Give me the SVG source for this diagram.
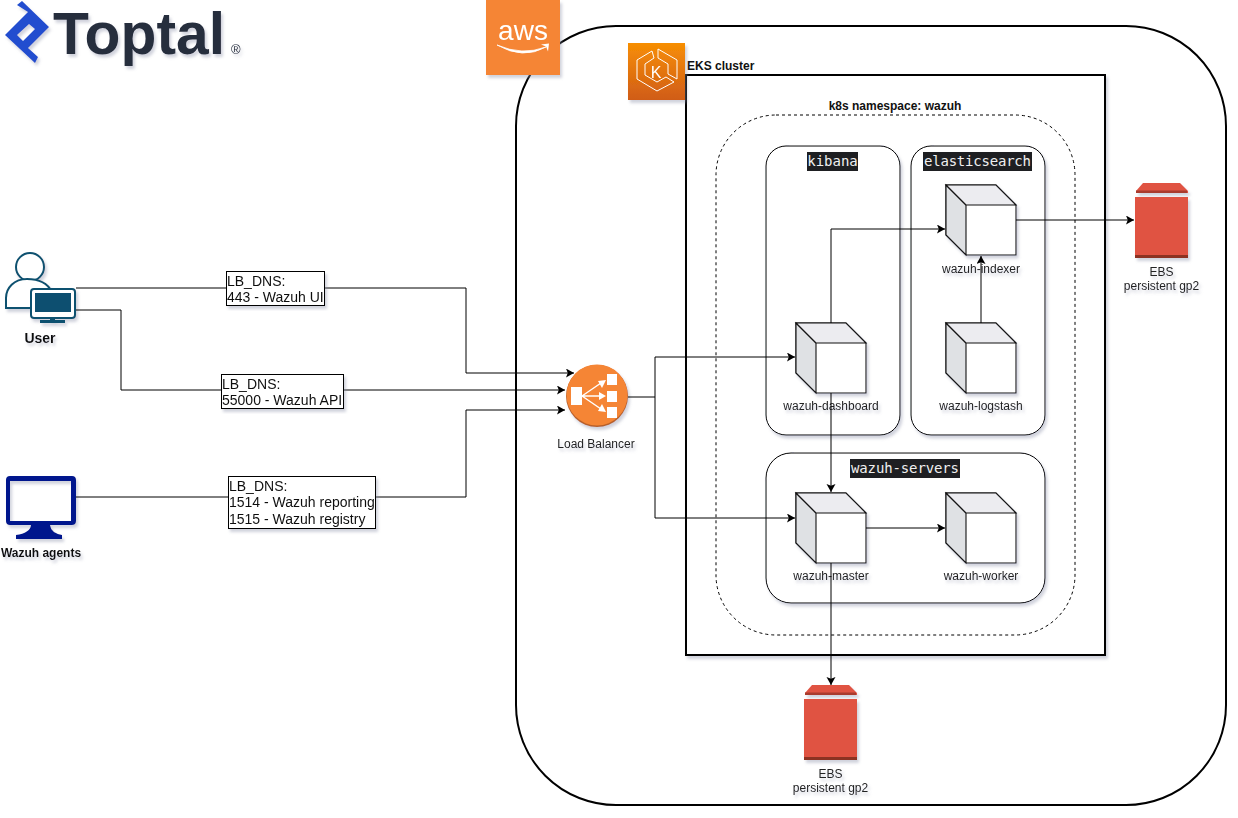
<svg xmlns="http://www.w3.org/2000/svg" width="1238" height="818" viewBox="0 0 1238 818">
<style>
text{font-family:"Liberation Sans",Arial,sans-serif;fill:#111}
.sm{font-size:12px;text-anchor:middle;fill:#222}
.b{font-size:12px;font-weight:700}
.lbl{font-size:14px;fill:#111}
.mono{font-family:"DejaVu Sans Mono","Liberation Mono",monospace;font-size:14px;fill:#f0f0f0;text-anchor:middle}
.c{fill:none;stroke:#000;stroke-width:1;marker-end:url(#ar)}
.cube path{stroke:#111;stroke-width:1.1}
.lb{fill:#fff;stroke:#000;stroke-width:1}
</style>
<defs>
<marker id="ar" markerUnits="userSpaceOnUse" markerWidth="10" markerHeight="10" refX="8" refY="4.5" orient="auto"><path d="M0 0L8 4.5 0 9 1.8 4.5Z" fill="#000"/></marker>
<filter id="sh" x="-10%" y="-10%" width="125%" height="125%"><feDropShadow dx="2" dy="3" stdDeviation="1.5" flood-color="#8a90a8" flood-opacity=".4"/></filter>
<linearGradient id="eks" x1="0" y1="0" x2="0" y2="1"><stop offset="0" stop-color="#F78E04"/><stop offset="1" stop-color="#D05C17"/></linearGradient>
<g id="cube" class="cube">
<path d="M0 0H50L70 20V70H20L0 50Z" fill="#fff"/>
<path d="M0 0L20 20V70L0 50Z" fill="#dfe1e4"/>
<path d="M0 0H50L70 20H20Z" fill="#ececf0"/>
</g>
<g id="ebs">
<path d="M8 0H45L53 8V10H1V8Z" fill="#E05243"/>
<path d="M1 7.500H52V10H1Z" fill="#A93B2E"/>
<rect x="0" y="14" width="53" height="61" fill="#E05243"/>
<rect x="0" y="72" width="53" height="3" fill="#8C3123"/>
</g>
</defs>

<g id="toptal-logo" filter="url(#sh)">
<path fill-rule="evenodd" d="M22 1L49 27 28 48 38 57 35 63 5 35 28 12 17 5ZM17 35L23 41 35 29 29 24Z" fill="#204ECF"/>
<text x="53" y="54" style="font-size:60px;font-weight:700;fill:#262D3D" textLength="172" lengthAdjust="spacingAndGlyphs">Toptal</text>
<text x="231" y="54" style="font-size:13px;fill:#262D3D">®</text>
</g>

<g id="aws-cloud"><rect x="516" y="26" width="710" height="779" rx="100" fill="#fff" stroke="#000" stroke-width="2"/></g>
<g id="aws-icon" filter="url(#sh)">
<rect x="486" y="0" width="74" height="75" fill="#F58534"/>
<text x="523" y="40" style="font-size:28px;fill:#fff;text-anchor:middle">aws</text>
<path d="M497 45Q522 56 546 47Q523 60 497 45Z" fill="#fff" stroke="#fff" stroke-width=".8"/>
<path d="M541 44.500L549 43.500 548 51.500 546 46.500Z" fill="#fff"/>
</g>

<g id="eks-cluster"><rect x="686" y="75" width="419" height="580" fill="#fff" stroke="#000" stroke-width="2" filter="url(#sh)"/>
<text x="687" y="70" class="b">EKS cluster</text></g>
<g id="eks-icon" filter="url(#sh)">
<rect x="628" y="43" width="57" height="57" fill="url(#eks)"/>
<g fill="none" stroke="#fff" stroke-width="1"><path d="M652 51L637 60V79L657 91 674 82 666 77 657 82 645 75V64L654 58Z"/><path d="M658 49L677 60V79L668 74V64L658 58Z"/><text x="656" y="78" style="font-size:16px;fill:#fff;stroke:none;text-anchor:middle">K</text></g>
</g>

<g id="namespace"><rect x="716" y="115" width="359" height="520" rx="60" fill="#fff" stroke="#000" stroke-dasharray="3 3"/>
<text x="895" y="110" class="b" text-anchor="middle">k8s namespace: wazuh</text></g>

<g id="kibana"><rect x="766" y="146" width="134" height="289" rx="20" fill="#fff" stroke="#000" filter="url(#sh)"/>
<rect x="807" y="152" width="51" height="19" fill="#1e1f22"/><text x="832.500" y="166" class="mono">kibana</text></g>
<g id="elasticsearch"><rect x="911" y="146" width="134" height="289" rx="20" fill="#fff" stroke="#000" filter="url(#sh)"/>
<rect x="923" y="152" width="109" height="19" fill="#1e1f22"/><text x="977.500" y="166" class="mono" textLength="107">elasticsearch</text></g>
<g id="wazuh-servers"><rect x="766" y="453" width="279" height="150" rx="25" fill="#fff" stroke="#000" filter="url(#sh)"/>
<rect x="850" y="459" width="110" height="19" fill="#1e1f22"/><text x="905" y="473" class="mono" textLength="108">wazuh-servers</text></g>

<g id="wazuh-indexer" filter="url(#sh)"><use href="#cube" x="946" y="185"/><text x="981" y="273" class="sm">wazuh-indexer</text></g>
<g id="wazuh-dashboard" filter="url(#sh)"><use href="#cube" x="796" y="323"/><text x="831" y="410" class="sm">wazuh-dashboard</text></g>
<g id="wazuh-logstash" filter="url(#sh)"><use href="#cube" x="946" y="323"/><text x="981" y="410" class="sm">wazuh-logstash</text></g>
<g id="wazuh-master" filter="url(#sh)"><use href="#cube" x="796" y="493"/><text x="831" y="580" class="sm">wazuh-master</text></g>
<g id="wazuh-worker" filter="url(#sh)"><use href="#cube" x="946" y="493"/><text x="981" y="580" class="sm">wazuh-worker</text></g>

<g id="ebs-1" filter="url(#sh)"><use href="#ebs" x="1135" y="183"/><text x="1161.500" y="276" class="sm">EBS</text><text x="1161.500" y="290" class="sm">persistent gp2</text></g>
<g id="ebs-2" filter="url(#sh)"><use href="#ebs" x="804" y="685"/><text x="830.500" y="778" class="sm">EBS</text><text x="830.500" y="792" class="sm">persistent gp2</text></g>

<g id="load-balancer" filter="url(#sh)">
<circle cx="597" cy="396" r="31" fill="#B7612A"/><circle cx="597" cy="395" r="30.500" fill="#F58534"/>
<rect x="571" y="387" width="11" height="18" fill="#fff"/><rect x="607" y="374" width="10" height="11" fill="#fff"/><rect x="607" y="391" width="10" height="11" fill="#fff"/><rect x="607" y="407" width="10" height="11" fill="#fff"/>
<path d="M582 396L601 383M582 396H601M582 396L601 409" stroke="#fff" stroke-width="1.500"/>
<path d="M606 380L602 388 598 381ZM606 396L599 400V392ZM606 412L598 411 602 404Z" fill="#fff"/>
<text x="596" y="448" class="sm">Load Balancer</text>
</g>

<g id="user" filter="url(#sh)">
<circle cx="30" cy="267" r="14" fill="#fff" stroke="#10516F" stroke-width="2"/>
<path d="M6 308V298C6 288 14 279 27 279 40 279 48 284 52 292L30 308Z" fill="#fff" stroke="#10516F" stroke-width="2"/>
<rect x="31" y="289" width="44" height="29" rx="3" fill="#fff" stroke="#10516F" stroke-width="2"/>
<rect x="35" y="293" width="36" height="19" fill="#0E4F70"/>
<rect x="50" y="318" width="5" height="3" fill="#10516F"/><rect x="40" y="320" width="25" height="3" fill="#10516F"/>
<text x="40" y="343" class="b" text-anchor="middle" style="font-size:14px">User</text>
</g>
<g id="agents" filter="url(#sh)">
<path fill-rule="evenodd" d="M10 476H72Q76 476 76 480V521Q76 525 72 525H50Q51 533 62 535V539H16V535Q30 533 31 525H10Q6 525 6 521V480Q6 476 10 476ZM10 481V521H71V481Z" fill="#00188D"/>
<text x="41" y="557" class="b" text-anchor="middle">Wazuh agents</text>
</g>

<g id="connectors">
<path class="c" d="M76 288H466V373H574"/>
<path class="c" d="M76 310H121V390H565"/>
<path class="c" d="M76 497H466V410H565"/>
<path class="c" d="M628 397H655V357H795"/>
<path class="c" d="M655 397V518H795"/>
<path class="c" d="M831 323V229H945"/>
<path class="c" d="M981 323V256"/>
<path class="c" d="M831 393V492"/>
<path class="c" d="M866 528H945"/>
<path class="c" d="M831 563V685"/>
<path class="c" d="M1016 220H1134"/>
</g>

<g id="label-443" filter="url(#sh)"><rect class="lb" x="226.500" y="271.500" width="98" height="34"/><text x="227" y="286" class="lbl">LB_DNS:</text><text x="227" y="302" class="lbl">443 - Wazuh UI</text></g>
<g id="label-55000" filter="url(#sh)"><rect class="lb" x="221.500" y="374.500" width="122" height="34"/><text x="222" y="389" class="lbl">LB_DNS:</text><text x="222" y="405" class="lbl">55000 - Wazuh API</text></g>
<g id="label-agents" filter="url(#sh)"><rect class="lb" x="228.500" y="476.500" width="147" height="52"/><text x="229" y="491" class="lbl">LB_DNS:</text><text x="229" y="507" class="lbl">1514 - Wazuh reporting</text><text x="229" y="524" class="lbl">1515 - Wazuh registry</text></g>
</svg>
